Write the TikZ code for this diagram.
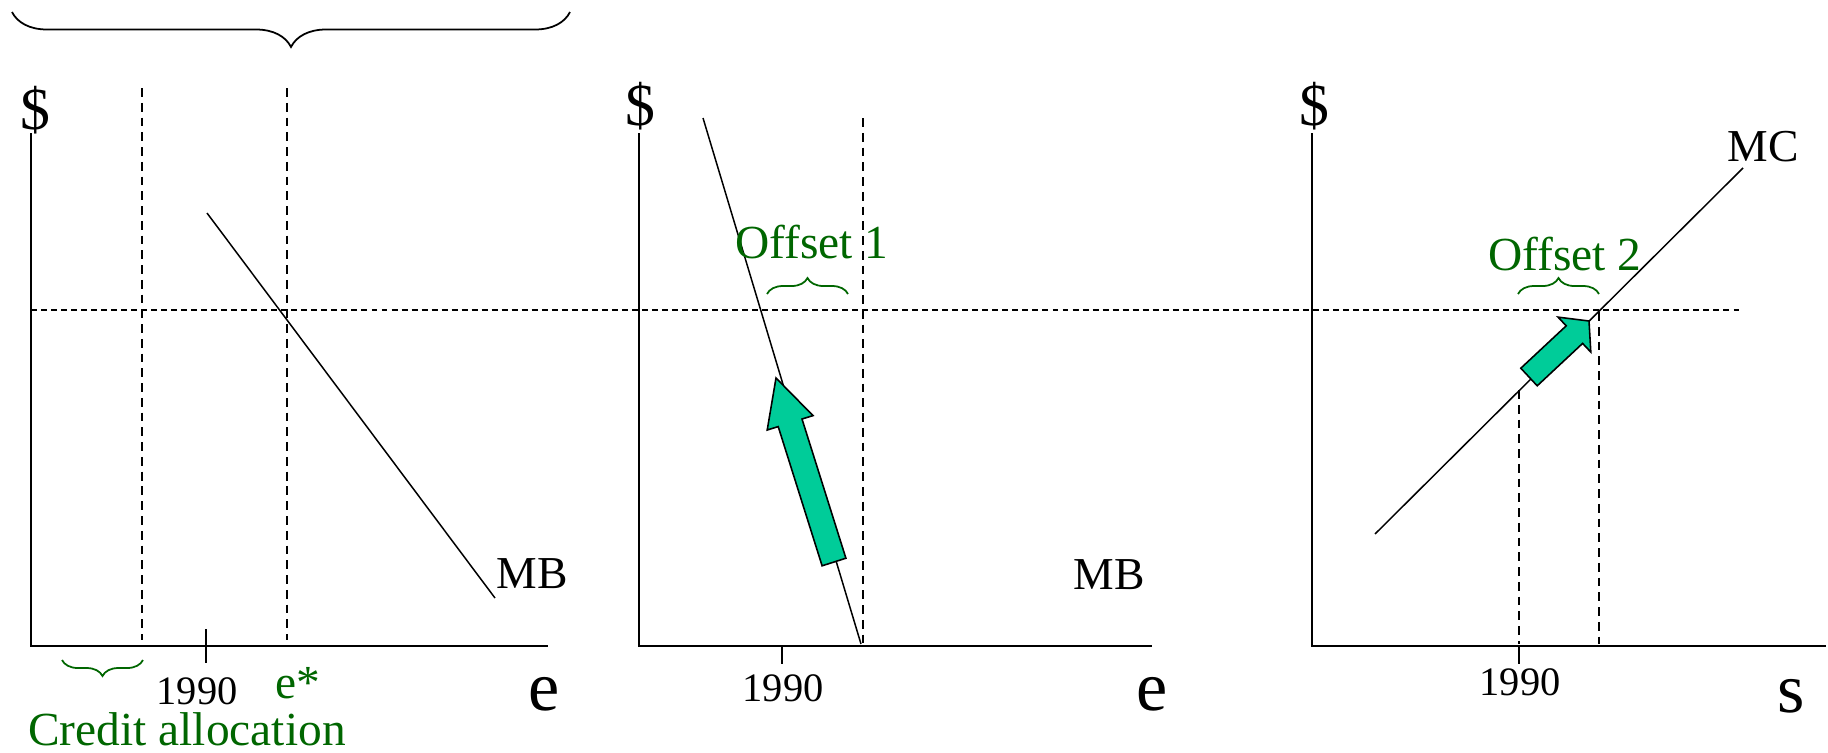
\documentclass[tikz,border=0pt]{standalone}
\usepackage{fontspec}
\setmainfont{Liberation Serif}
\usepackage{tikz}
\usetikzlibrary{decorations.pathreplacing}
\definecolor{offsetgreen}{RGB}{0,102,0}
\definecolor{arrowteal}{RGB}{0,204,153}
\tikzstyle{axis} = [
    line width=1.2pt,
    draw=black
]
\tikzstyle{curve} = [
    line width=0.85pt,
    draw=black
]
\tikzstyle{guide} = [
    line width=1.15pt,
    dash pattern=on 5pt off 3.4pt
]
\tikzstyle{level} = [
    line width=1.15pt,
    dash pattern=on 3.4pt off 2.3pt
]
\tikzstyle{blockarrow} = [
    fill=arrowteal,
    draw=black,
    line width=0.9pt,
    line join=miter
]
\tikzstyle{bigbrace} = [
    decorate,
    decoration={brace, amplitude=0.7cm},
    line width=1pt
]
\tikzstyle{smallbrace} = [
    decorate,
    decoration={brace, amplitude=0.32cm},
    draw=offsetgreen,
    line width=1pt
]
\tikzstyle{dollar} = [font=\fontsize{34}{40}\selectfont, inner sep=0pt]
\tikzstyle{qty} = [font=\fontsize{40}{48}\selectfont, inner sep=0pt]
\tikzstyle{curvelabel} = [font=\fontsize{26}{31}\selectfont, inner sep=0pt]
\tikzstyle{year} = [font=\fontsize{23}{28}\selectfont, inner sep=0pt]
\tikzstyle{note} = [font=\fontsize{27}{32}\selectfont, text=offsetgreen, inner sep=0pt]

\begin{document}
\begin{tikzpicture}[x=0.02cm, y=-0.02cm]
\useasboundingbox (0,0) rectangle (1828,752);

\draw [bigbrace] (570,12) -- (12,12);

\draw [level] (31,310) -- (1743,310);

\draw [guide] (142,88) -- (142,640);
\draw [guide] (287,88) -- (287,640);
\draw [guide] (863,118) -- (863,644);
\draw [guide] (1519,390) -- (1519,644);
\draw [guide] (1599,312) -- (1599,644);

\draw [curve] (207,213) -- (495,598);
\draw [curve] (703,118) -- (861,644);
\draw [curve] (1375,534) -- (1743,168);

\filldraw [blockarrow] (845.9,558.2) -- (822.1,565.8) -- (778.2,426.6) -- (767.2,430.0)
    -- (776,378) -- (813.0,415.6) -- (802.0,419.0) -- cycle;
\filldraw [blockarrow] (1537.2,385.8) -- (1520.8,368.2) -- (1566.2,325.8) -- (1558.0,317.1)
    -- (1589,321) -- (1590.8,352.1) -- (1582.6,343.4) -- cycle;

\draw [axis] (31,133) |- (548,646);
\draw [axis] (206,629) -- (206,663);
\draw [axis] (639,133) |- (1152,646);
\draw [axis] (782,646) -- (782,664);
\draw [axis] (1312,133) |- (1826,646);
\draw [axis] (1519,646) -- (1519,664);

\draw [smallbrace] (143,660) -- (62,660);
\draw [smallbrace] (767,294) -- (848,294);
\draw [smallbrace] (1518,294) -- (1599,294);

\node (dollar1) [dollar] at (35,110) {\$};
\node (dollar2) [dollar] at (640,106) {\$};
\node (dollar3) [dollar] at (1314,106) {\$};

\node (mb1) [curvelabel] at (532,574) {MB};
\node (mb2) [curvelabel] at (1109,575) {MB};
\node (mc) [curvelabel] at (1763,147) {MC};

\node (year1) [year] at (197,691) {1990};
\node (year2) [year] at (783,688) {1990};
\node (year3) [year] at (1520,682) {1990};

\node (e1) [qty] at (544,694) {e};
\node (e2) [qty] at (1152,694) {e};
\node (s3) [qty] at (1791,696) {s};

\node (estar) [note] at (298,683) {e*};
\node (credit) [note] at (187,729) {Credit allocation};
\node (offset1) [note] at (812,242) {Offset 1};
\node (offset2) [note] at (1565,254) {Offset 2};

\end{tikzpicture}
\end{document}
